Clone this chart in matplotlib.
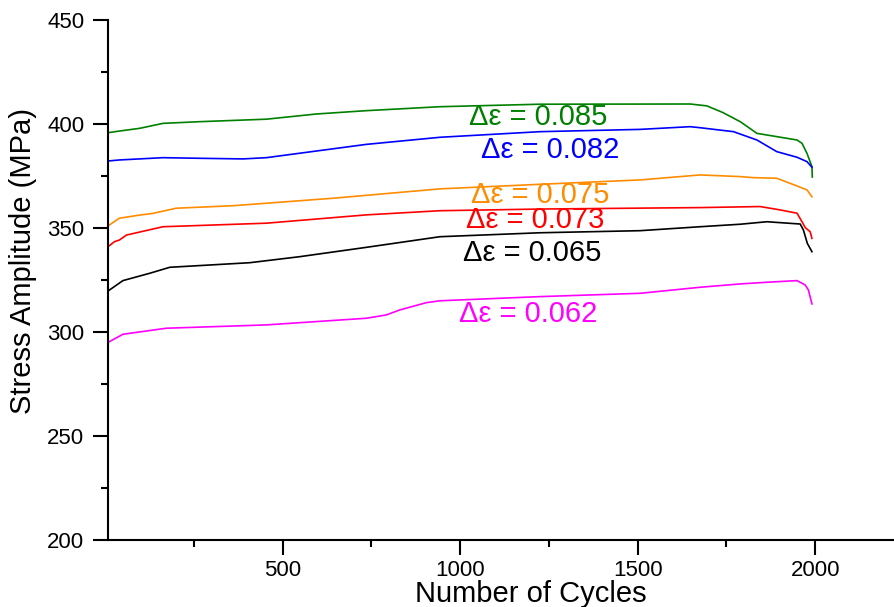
import matplotlib.pyplot as plt
from matplotlib.ticker import MultipleLocator

plt.rcParams['font.family'] = ['Liberation Sans', 'DejaVu Sans']

# cycles / stress amplitude (MPa)
x_085 = [8, 40, 97, 163, 266, 454, 595, 736, 943, 1225, 1648, 1695, 1740, 1789, 1836, 1864,
         1949, 1963, 1977, 1991, 1992]
y_085 = [395.8, 396.6, 397.9, 400.3, 401.1, 402.3, 404.8, 406.4, 408.3, 409.5, 409.6, 408.7,
         405.5, 401.1, 395.5, 394.7, 392.3, 390.7, 385.9, 379.5, 374.5]

x_082 = [8, 40, 163, 266, 388, 454, 595, 736, 943, 1225, 1507, 1648, 1676, 1770, 1836, 1892,
         1949, 1977, 1991]
y_082 = [382.2, 382.7, 383.8, 383.5, 383.2, 383.8, 387, 390.2, 393.6, 396.3, 397.4, 398.7,
         398.2, 396.3, 392.3, 386.7, 384, 381.9, 379.2]

x_075 = [8, 40, 97, 134, 200, 360, 642, 943, 1225, 1507, 1676, 1789, 1826, 1892, 1949, 1977, 1991]
y_075 = [351, 354.7, 356.2, 357, 359.5, 360.7, 364.3, 368.8, 371, 373.1, 375.5, 374.7,
         374.2, 373.9, 370.2, 368.3, 365]

x_073 = [8, 26, 40, 60, 163, 454, 736, 943, 1225, 1676, 1845, 1901, 1949, 1963, 1972, 1986, 1991]
y_073 = [341, 343.4, 344.2, 346.6, 350.6, 352.3, 356.3, 358.3, 359.1, 359.8, 360.3, 358.7,
         357.1, 353, 350.2, 348.2, 345]

x_065 = [8, 50, 125, 182, 407, 548, 736, 943, 1225, 1507, 1676, 1789, 1864, 1958, 1967, 1978, 1991]
y_065 = [319.7, 324.7, 328.2, 331.1, 333.3, 336.2, 340.7, 345.8, 347.7, 348.7, 350.6, 351.8,
         353, 351.9, 349, 342.6, 338.6]

x_062 = [8, 50, 172, 454, 736, 792, 830, 905, 943, 1225, 1507, 1676, 1789, 1864, 1949, 1972,
         1981, 1991]
y_062 = [295, 298.9, 301.8, 303.4, 306.6, 308.2, 310.6, 314.1, 315, 317, 318.6, 321.5, 323.1,
         323.9, 324.7, 322.6, 320.2, 313.5]

series = [
    (x_085, y_085, 'green', '0.085', 1219, 403.4),
    (x_082, y_082, 'blue', '0.082', 1253, 387.5),
    (x_075, y_075, 'darkorange', '0.075', 1225, 365.9),
    (x_073, y_073, 'red', '0.073', 1211, 353.8),
    (x_065, y_065, 'black', '0.065', 1202, 338.0),
    (x_062, y_062, 'magenta', '0.062', 1191, 308.7),
]

fig = plt.figure(figsize=(8.95, 6.07), dpi=100)
ax = fig.add_axes([0.1207, 0.1104, 0.8793, 0.8567])

for xs, ys, c, lab, tx, ty in series:
    ax.plot(xs, ys, color=c, lw=1.2)
    ax.text(tx, ty, '\u0394\u03b5 = ' + lab, color=c, fontsize=21,
            ha='center', va='center')

ax.set_xlim(8, 2225)
ax.set_ylim(200, 450)
ax.xaxis.set_major_locator(MultipleLocator(500))
ax.xaxis.set_minor_locator(MultipleLocator(250))
ax.yaxis.set_major_locator(MultipleLocator(50))
ax.yaxis.set_minor_locator(MultipleLocator(25))

ax.spines['top'].set_visible(False)
ax.spines['right'].set_visible(False)
for s in ['left', 'bottom']:
    ax.spines[s].set_linewidth(1.5)
ax.tick_params(which='major', length=11, width=1.5, labelsize=16, direction='out')
ax.tick_params(axis='y', which='major', pad=6)
ax.tick_params(which='minor', length=5, width=1.5, direction='out')

ax.set_xlabel('Number of Cycles', fontsize=21)
ax.set_ylabel('Stress Amplitude (MPa)', fontsize=21)
ax.xaxis.set_label_coords(0.537, -0.076)
ax.yaxis.set_label_coords(-0.09, 0.537)

plt.savefig('out.png', dpi=100)
